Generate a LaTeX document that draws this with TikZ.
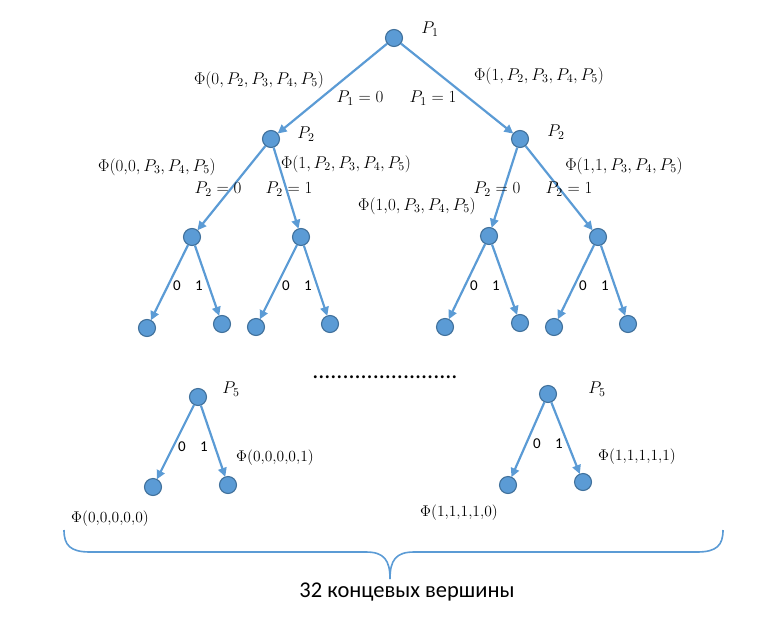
\RequirePackage{fix-cm}
\documentclass[tikz,border=0pt]{standalone}
\usepackage[no-math]{fontspec}
\setmainfont{Carlito}
\usetikzlibrary{arrows.meta}
\definecolor{nodefill}{HTML}{5B9BD5}
\definecolor{nodeline}{HTML}{41719C}
\begin{document}
\begin{tikzpicture}[x=1pt,y=-1pt,
  vtx/.style={circle,fill=nodefill,draw=nodeline,line width=1.1pt,minimum size=17pt,inner sep=0pt},
  edge/.style={draw=nodefill,line width=2.2pt,-{Triangle[length=9pt,width=8.5pt]},shorten >=-0.5pt},
  lbl/.style={inner sep=0pt,font=\fontsize{17}{19}\selectfont},
  leaf/.style={inner sep=0pt,font=\fontsize{15.5}{17}\selectfont},
  bit/.style={inner sep=0pt,font=\fontsize{15}{16}\selectfont},
  bracecol/.style={draw=nodefill,line width=1.6pt}]
\useasboundingbox (0,0) rectangle (775,626);
% nodes
\node[vtx] (r) at (394,38) {};
\node[vtx] (a) at (271,139) {};
\node[vtx] (b) at (520,139) {};
\node[vtx] (aa) at (192,237) {};
\node[vtx] (ab) at (301,237) {};
\node[vtx] (ba) at (489,236) {};
\node[vtx] (bb) at (598,237) {};
\node[vtx] (aaa) at (147,328) {};
\node[vtx] (aab) at (222,324) {};
\node[vtx] (aba) at (256,327) {};
\node[vtx] (abb) at (330,324) {};
\node[vtx] (baa) at (445,327) {};
\node[vtx] (bab) at (520,323) {};
\node[vtx] (bba) at (554,327) {};
\node[vtx] (bbb) at (628,324) {};
\node[vtx] (p) at (198,397) {};
\node[vtx] (pa) at (153,487) {};
\node[vtx] (pb) at (228,485) {};
\node[vtx] (q) at (548,394) {};
\node[vtx] (qa) at (508,485) {};
\node[vtx] (qb) at (583,482) {};
% edges
\foreach \s/\t in {r/a,r/b,a/aa,a/ab,b/ba,b/bb,aa/aaa,aa/aab,ab/aba,ab/abb,ba/baa,ba/bab,bb/bba,bb/bbb,p/pa,p/pb,q/qa,q/qb}
  \draw[edge] (\s) -- (\t);
% labels
\node[lbl] (lp1) at (430,29) {$P_1$};
\node[lbl] (l0) at (259,80) {$\Phi(0,P_2,P_3,P_4,P_5)$};
\node[lbl] (l1) at (539,76) {$\Phi(1,P_2,P_3,P_4,P_5)$};
\node[lbl] (e0) at (360,98) {$P_1=0$};
\node[lbl] (e1) at (433,98) {$P_1=1$};
\node[lbl] (lp2a) at (306,134) {$P_2$};
\node[lbl] (lp2b) at (556,132) {$P_2$};
\node[lbl] (l00) at (157,167) {$\Phi(0{,}0,P_3,P_4,P_5)$};
\node[lbl] (l01) at (346,164) {$\Phi(1,P_2,P_3,P_4,P_5)$};
\node[lbl] (l10) at (417,206) {$\Phi(1{,}0,P_3,P_4,P_5)$};
\node[lbl] (l11) at (624,166) {$\Phi(1{,}1,P_3,P_4,P_5)$};
\node[lbl] (f0) at (218,189) {$P_2=0$};
\node[lbl] (f1) at (289,189) {$P_2=1$};
\node[lbl] (g0) at (497,189) {$P_2=0$};
\node[lbl] (g1) at (569,189) {$P_2=1$};
\foreach \x/\n in {177/b1,286/b2,474/b3,583/b4}{
  \node[bit] (\n z) at (\x,286) {0};
  \node[bit] (\n o) at (\x+22,286) {1};
}
\node[inner sep=0pt,anchor=base,font=\fontsize{24}{24}\selectfont] (dots) at (385,378) {........................};
\node[lbl] (lp5a) at (231,389) {$P_5$};
\node[lbl] (lp5b) at (597,389) {$P_5$};
\node[bit] (c0) at (182,447) {0};
\node[bit] (c1) at (204,447) {1};
\node[bit] (d0) at (537,444) {0};
\node[bit] (d1) at (559,444) {1};
\node[leaf] (t1) at (275,458) {$\Phi(0{,}0{,}0{,}0{,}1)$};
\node[leaf] (t2) at (637,457) {$\Phi(1{,}1{,}1{,}1{,}1)$};
\node[leaf] (t3) at (110,519) {$\Phi(0{,}0{,}0{,}0{,}0)$};
\node[leaf] (t4) at (459,513) {$\Phi(1{,}1{,}1{,}1{,}0)$};
% brace
\coordinate (bl) at (64,530);
\coordinate (br) at (723,530);
\coordinate (bt) at (390,579);
\draw[bracecol] (bl) .. controls (64,545) and (70,552) .. (90,552) -- (366,552) .. controls (384,552) and (390,560) .. (bt);
\draw[bracecol] (br) .. controls (723,545) and (717,552) .. (697,552) -- (414,552) .. controls (396,552) and (390,560) .. (bt);
\node[inner sep=0pt,font=\fontsize{22.5}{26}\selectfont] (cap) at (407,592) {32 концевых вершины};
\end{tikzpicture}
\end{document}
